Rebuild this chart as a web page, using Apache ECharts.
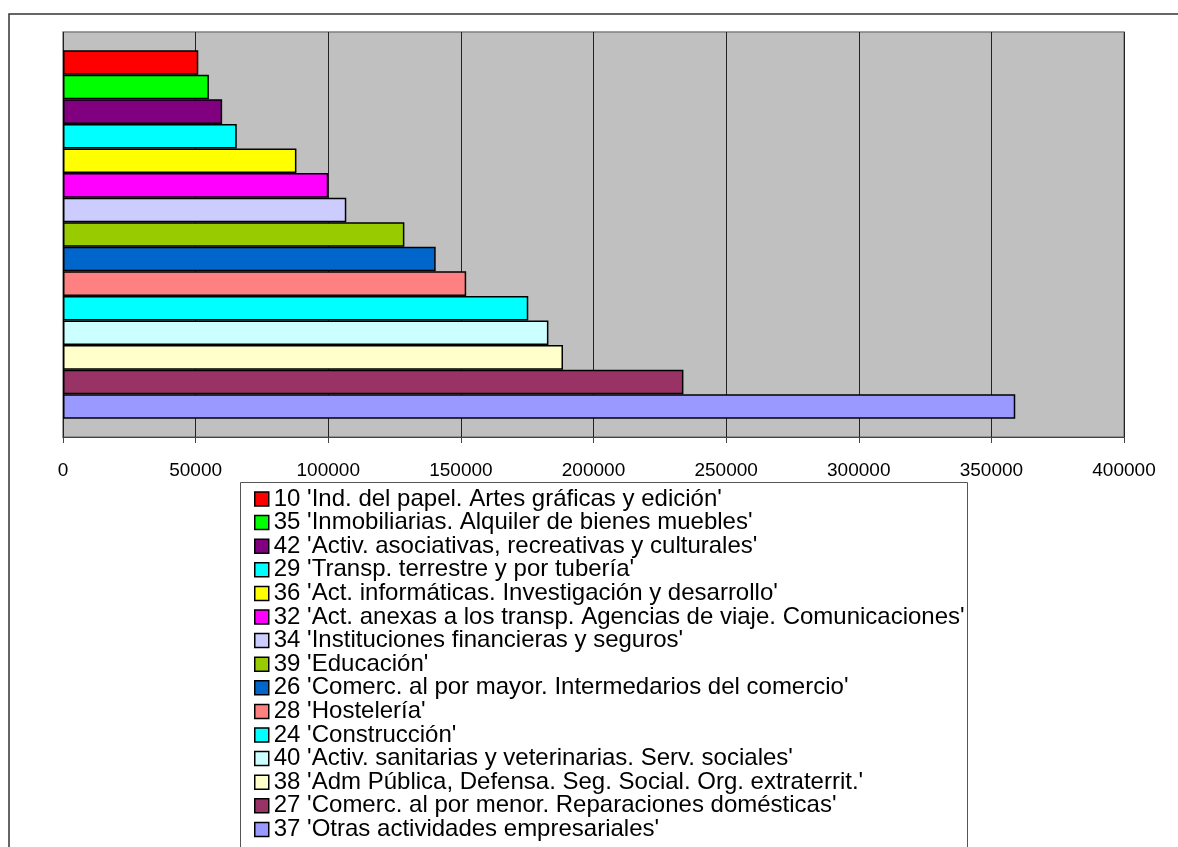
<!DOCTYPE html>
<html>
<head>
<meta charset="utf-8">
<script src="https://cdn.jsdelivr.net/npm/echarts@6/dist/echarts.min.js"></script>
<style>
  html, body { margin: 0; padding: 0; background: #fff; }
  #chart { width: 1178px; height: 847px; }
</style>
</head>
<body>
<div id="chart"></div>
<script>
// sectores, de arriba abajo (mismo orden que la leyenda)
const codes = ['10', '35', '42', '29', '36', '32', '34', '39', '26', '28', '24', '40', '38', '27', '37'];
const labels = [
  'Ind. del papel. Artes gráficas y edición',
  'Inmobiliarias. Alquiler de bienes muebles',
  'Activ. asociativas, recreativas y culturales',
  'Transp. terrestre y por tubería',
  'Act. informáticas. Investigación y desarrollo',
  'Act. anexas a los transp. Agencias de viaje. Comunicaciones',
  'Instituciones financieras y seguros',
  'Educación',
  'Comerc. al por mayor. Intermedarios del comercio',
  'Hostelería',
  'Construcción',
  'Activ. sanitarias y veterinarias. Serv. sociales',
  'Adm Pública, Defensa. Seg. Social. Org. extraterrit.',
  'Comerc. al por menor. Reparaciones domésticas',
  'Otras actividades empresariales'
];
const values = [51000, 55000, 60000, 65500, 88000, 100000, 106800, 128700, 140500, 152000, 175400, 183000, 188500, 233900, 359000];
const colors = ['#ff0000', '#00ff00', '#800080', '#00ffff', '#ffff00', '#ff00ff', '#ccccff', '#99cc00',
  '#0066cc', '#ff8080', '#00ffff', '#ccffff', '#ffffcc', '#993366', '#9999ff'];
const ticks = [0, 400000, 50000]; // min, max, paso

const names = codes.map((c, i) => c + " '" + labels[i] + "'");

const chart = echarts.init(document.getElementById('chart'));

const series = names.map((n, i) => ({
  name: n,
  type: 'bar',
  data: [values[i]],
  barGap: '0%',
  barCategoryGap: '9%',
  itemStyle: { color: colors[i], borderColor: '#000', borderWidth: 1.5 },
  emphasis: { disabled: true }
}));

chart.setOption({
  animation: false,
  textStyle: { fontFamily: 'Liberation Sans, Arial, sans-serif' },
  graphic: [
    // marco exterior
    { type: 'rect', z: -10, shape: { x: 9, y: 14, width: 1200, height: 900 },
      style: { fill: 'none', stroke: '#333', lineWidth: 1.5 } },
    // caja de la leyenda
    { type: 'rect', z: -5, shape: { x: 240.5, y: 482.5, width: 727, height: 400 },
      style: { fill: '#fff', stroke: '#555', lineWidth: 1 } }
  ],
  grid: {
    left: 63, top: 32, right: 54, bottom: 410,
    show: true, backgroundColor: '#c0c0c0', borderColor: '#808080', borderWidth: 1.5
  },
  xAxis: {
    type: 'value',
    min: ticks[0], max: ticks[1], interval: ticks[2],
    axisLine: { show: true, lineStyle: { color: '#444', width: 1 } },
    axisTick: { show: true, length: 6, lineStyle: { color: '#444' } },
    splitLine: { show: true, lineStyle: { color: '#222', width: 1 } },
    axisLabel: { color: '#000', fontSize: 19, margin: 24, fontFamily: 'Liberation Sans',
      formatter: v => String(v) }
  },
  yAxis: {
    type: 'category',
    data: [''],
    axisLine: { show: false },
    axisTick: { show: false },
    axisLabel: { show: false }
  },
  legend: {
    orient: 'vertical',
    left: 254, top: 487,
    height: 500,
    padding: 0,
    data: names,
    icon: 'rect',
    itemWidth: 14, itemHeight: 14,
    itemGap: -0.4,
    selectedMode: false,
    itemStyle: { borderColor: '#000', borderWidth: 1.5 },
    textStyle: { color: '#000', fontSize: 24, lineHeight: 22, fontFamily: 'Liberation Sans' }
  },
  series: series
});
</script>
</body>
</html>
